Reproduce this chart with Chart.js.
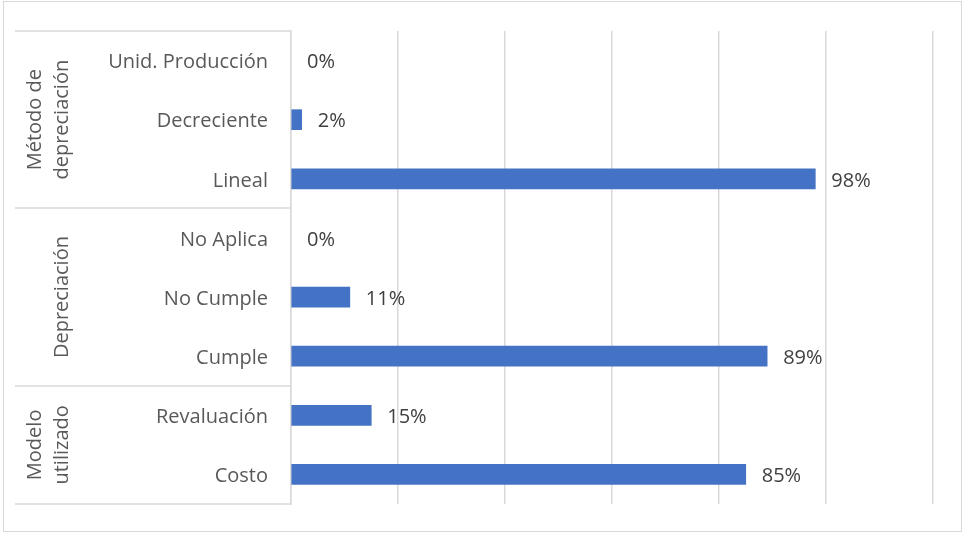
<!DOCTYPE html>
<html lang="es">
<head>
    <meta charset="UTF-8">
    <title>Depreciación</title>
    <script src="https://cdn.jsdelivr.net/npm/chart.js"></script>
    <style>
        html, body { margin: 0; padding: 0; background: #fff; }
        #wrap { width: 963px; height: 533px; }
    </style>
</head>
<body>
    <div id="wrap"><canvas id="chart" width="963" height="533"></canvas></div>
    <script>
        // categories top to bottom
        const categorias = ['Unid. Producción', 'Decreciente', 'Lineal', 'No Aplica', 'No Cumple', 'Cumple', 'Revaluación', 'Costo'];
        const porcentajes = [0, 2, 98, 0, 11, 89, 15, 85];
        // group titles and how many categories each one spans
        const grupos = [['Método de', 'depreciación'], ['Depreciación'], ['Modelo', 'utilizado']];
        const tamanoGrupo = [3, 3, 2];

        const FONT = '"Open Sans", Lato, sans-serif';
        const SIZE = 20;
        const LINE = '#d9d9d9';

        // outer frame, group separators and group titles
        const gruposPlugin = {
            id: 'grupos',
            beforeDraw(chart) {
                const c = chart.ctx;
                c.save();
                c.strokeStyle = LINE;
                c.lineWidth = 1;
                c.strokeRect(3.5, 1.5, 958, 530);
                c.restore();
            },
            afterDraw(chart) {
                const c = chart.ctx;
                const y = chart.scales.y;
                const left = chart.chartArea.left;
                const paso = (y.getPixelForValue(1) - y.getPixelForValue(0));
                let idx = 0;
                const bordes = [y.getPixelForValue(0) - paso / 2];
                tamanoGrupo.forEach(n => {
                    idx += n;
                    bordes.push(y.getPixelForValue(idx - 1) + paso / 2);
                });
                c.save();
                c.strokeStyle = LINE;
                c.lineWidth = 1.5;
                bordes.forEach(b => {
                    const py = Math.round(b);
                    c.beginPath();
                    c.moveTo(15, py);
                    c.lineTo(left, py);
                    c.stroke();
                });
                c.fillStyle = '#595959';
                c.font = SIZE + 'px ' + FONT;
                c.textAlign = 'center';
                c.textBaseline = 'middle';
                grupos.forEach((lineas, g) => {
                    const cy = (bordes[g] + bordes[g + 1]) / 2;
                    c.save();
                    c.translate(0, cy);
                    c.rotate(-Math.PI / 2);
                    lineas.forEach((t, i) => {
                        const x = 62 - (lineas.length - 1 - i) * 27;
                        c.fillText(t, 0, x);
                    });
                    c.restore();
                });
                c.restore();
            }
        };

        // value labels at the end of each bar
        const etiquetasPlugin = {
            id: 'etiquetas',
            afterDatasetsDraw(chart) {
                const c = chart.ctx;
                const meta = chart.getDatasetMeta(0);
                c.save();
                c.fillStyle = '#404040';
                c.font = SIZE + 'px ' + FONT;
                c.textAlign = 'left';
                c.textBaseline = 'middle';
                meta.data.forEach((bar, i) => {
                    c.fillText(porcentajes[i] + '%', bar.x + 16, bar.y + 2);
                });
                c.restore();
            }
        };

        const ctx = document.getElementById('chart').getContext('2d');
        const chart = new Chart(ctx, {
            type: 'bar',
            data: {
                labels: categorias,
                datasets: [{
                    data: porcentajes,
                    backgroundColor: c => (c.raw === 0 ? 'rgba(0,0,0,0)' : '#4472c4'),
                    barThickness: 20
                }]
            },
            options: {
                indexAxis: 'y',
                responsive: false,
                animation: false,
                layout: { padding: { top: 31, bottom: 29, right: 30, left: 0 } },
                plugins: {
                    legend: { display: false },
                    tooltip: { enabled: false }
                },
                scales: {
                    x: {
                        min: 0,
                        max: 120,
                        ticks: { stepSize: 20, display: false },
                        grid: { color: LINE, lineWidth: 1.5, drawTicks: false },
                        border: { display: false }
                    },
                    y: {
                        afterFit(scale) {
                            scale.width = 291;
                            // labels sit inside their rows, no extra room needed above/below
                            scale.paddingTop = 0;
                            scale.paddingBottom = 0;
                        },
                        ticks: {
                            color: '#595959',
                            font: { family: FONT, size: SIZE },
                            padding: 23,
                            labelOffset: 2
                        },
                        grid: { display: false, drawTicks: false },
                        border: { display: true, color: LINE, width: 1.5 }
                    }
                }
            },
            plugins: [gruposPlugin, etiquetasPlugin]
        });
    </script>
</body>
</html>
